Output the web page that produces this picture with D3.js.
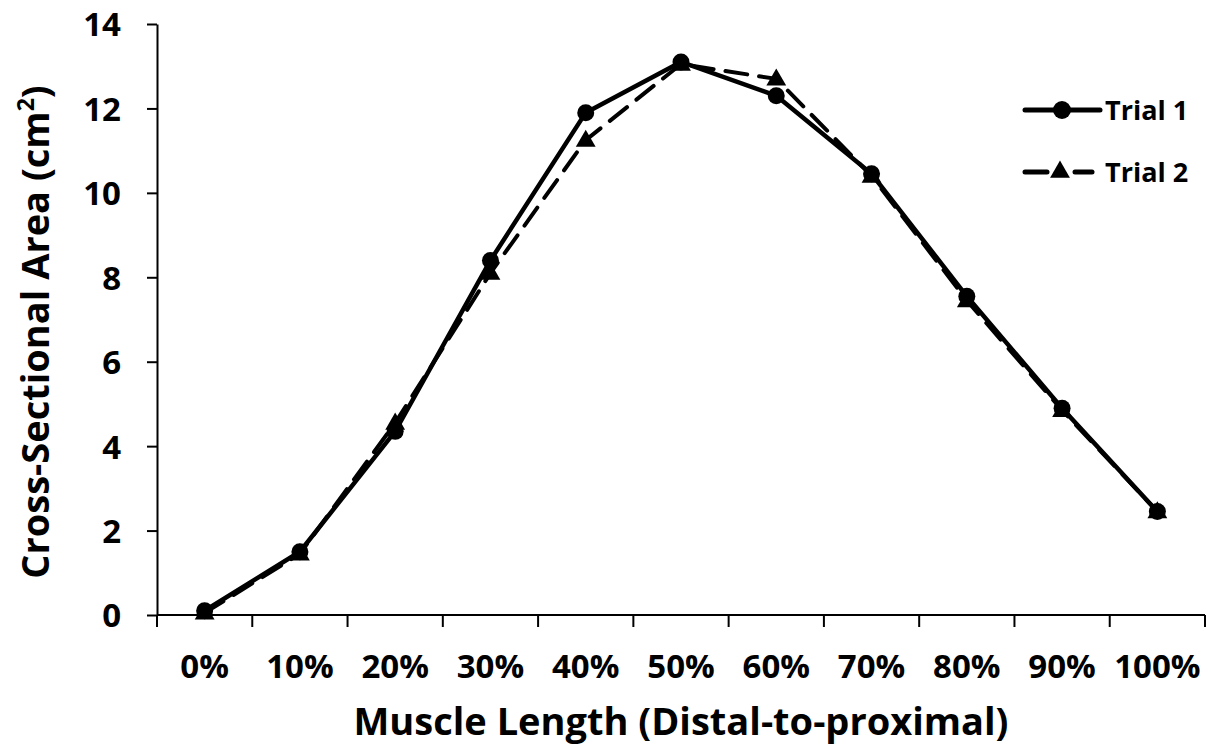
<!DOCTYPE html>
<html>
<head>
<meta charset="utf-8">
<script src="https://cdn.jsdelivr.net/npm/d3@7"></script>
<style>
  body { margin: 0; background: #fff; }
  svg text { font-family: "Open Sans", Lato, sans-serif; font-weight: bold; fill: #000; }
</style>
</head>
<body>
<div id="chart"></div>
<script>
const categories = ["0%", "10%", "20%", "30%", "40%", "50%", "60%", "70%", "80%", "90%", "100%"];
const trial1 = [0.1, 1.5, 4.35, 8.4, 11.9, 13.1, 12.3, 10.45, 7.55, 4.9, 2.45];
const trial2 = [0.05, 1.45, 4.55, 8.1, 11.25, 13.05, 12.7, 10.4, 7.45, 4.85, 2.45];
const yTicks = [0, 2, 4, 6, 8, 10, 12, 14];

const width = 1211;
const height = 751;
const margin = { top: 24, right: 6, bottom: 136, left: 157 };

const svg = d3.select("#chart")
    .append("svg")
    .attr("width", width)
    .attr("height", height);

const x = d3.scaleBand()
    .domain(categories)
    .range([margin.left, width - margin.right]);

const y = d3.scaleLinear()
    .domain([0, 14])
    .range([height - margin.bottom, margin.top]);

// y axis
const yAxis = svg.append("g")
    .attr("transform", `translate(${margin.left},0)`)
    .call(d3.axisLeft(y).tickValues(yTicks).tickSize(10).tickPadding(26).tickSizeOuter(0));
yAxis.select(".domain").attr("stroke", "#000").attr("stroke-width", 2);
yAxis.selectAll(".tick line").attr("stroke", "#000").attr("stroke-width", 2);
yAxis.selectAll(".tick text").attr("font-size", 33).attr("dy", "0.36em");

// x axis: ticks between categories
const xAxis = svg.append("g")
    .attr("transform", `translate(0,${y(0)})`);
xAxis.append("line")
    .attr("x1", margin.left).attr("x2", width - margin.right)
    .attr("stroke", "#000").attr("stroke-width", 2);
const bounds = categories.map(c => x(c)).concat([x(categories[categories.length - 1]) + x.bandwidth()]);
xAxis.selectAll("line.tk")
    .data(bounds)
    .join("line")
    .attr("class", "tk")
    .attr("x1", d => d).attr("x2", d => d)
    .attr("y1", 0).attr("y2", 12)
    .attr("stroke", "#000").attr("stroke-width", 2);
xAxis.selectAll("text")
    .data(categories)
    .join("text")
    .attr("x", d => x(d) + x.bandwidth() / 2)
    .attr("y", 63)
    .attr("text-anchor", "middle")
    .attr("font-size", 33)
    .text(d => d);

// axis titles
svg.append("text")
    .attr("x", 681)
    .attr("y", 735)
    .attr("text-anchor", "middle")
    .attr("font-size", 38)
    .text("Muscle Length (Distal-to-proximal)");

const yTitle = svg.append("text")
    .attr("transform", `translate(49,332) rotate(-90)`)
    .attr("text-anchor", "middle")
    .attr("font-size", 38);
yTitle.append("tspan").text("Cross-Sectional Area (cm");
yTitle.append("tspan").attr("font-size", 23).attr("dy", -15).text("2");
yTitle.append("tspan").attr("dy", 15).text(")");

const cx = (d, i) => x(categories[i]) + x.bandwidth() / 2;

const line = d3.line()
    .x((d, i) => cx(d, i))
    .y(d => y(d));

svg.append("path")
    .datum(trial2)
    .attr("fill", "none")
    .attr("stroke", "#000")
    .attr("stroke-width", 4)
    .attr("stroke-dasharray", "22,12")
    .attr("stroke-linecap", "round")
    .attr("d", line);

svg.append("path")
    .datum(trial1)
    .attr("fill", "none")
    .attr("stroke", "#000")
    .attr("stroke-width", 4.5)
    .attr("d", line);

const tri = d3.symbol().type(d3.symbolTriangle).size(170);
svg.append("g")
    .selectAll("path")
    .data(trial2)
    .join("path")
    .attr("transform", (d, i) => `translate(${cx(d, i)},${y(d) + 1})`)
    .attr("d", tri)
    .attr("fill", "#000");

svg.append("g")
    .selectAll("circle")
    .data(trial1)
    .join("circle")
    .attr("cx", (d, i) => cx(d, i))
    .attr("cy", d => y(d))
    .attr("r", 8.5)
    .attr("fill", "#000");

// legend
const legend = svg.append("g").attr("transform", "translate(1025,110)");
legend.append("line")
    .attr("x1", 0).attr("x2", 75).attr("y1", 0).attr("y2", 0)
    .attr("stroke", "#000").attr("stroke-width", 5).attr("stroke-linecap", "round");
legend.append("circle").attr("cx", 37).attr("cy", 0).attr("r", 9).attr("fill", "#000");
legend.append("text").attr("x", 80).attr("y", 10).attr("font-size", 27).text("Trial 1");

const leg2 = svg.append("g").attr("transform", "translate(1025,172)");
leg2.append("line")
    .attr("x1", 0).attr("x2", 22).attr("y1", 0).attr("y2", 0)
    .attr("stroke", "#000").attr("stroke-width", 5).attr("stroke-linecap", "round");
leg2.append("line")
    .attr("x1", 50).attr("x2", 67).attr("y1", 0).attr("y2", 0)
    .attr("stroke", "#000").attr("stroke-width", 5).attr("stroke-linecap", "round");
leg2.append("path").attr("transform", "translate(35,0)").attr("d", tri).attr("fill", "#000");
leg2.append("text").attr("x", 80).attr("y", 10).attr("font-size", 27).text("Trial 2");
</script>
</body>
</html>
